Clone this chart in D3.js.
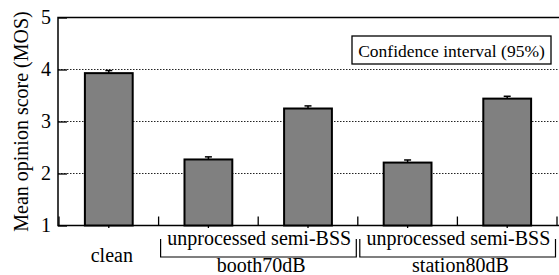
<!DOCTYPE html>
<html>
<head>
<meta charset="utf-8">
<script src="https://cdn.jsdelivr.net/npm/d3@7"></script>
<style>
  body { margin: 0; background: #fff; }
</style>
</head>
<body>
<svg id="chart" width="559" height="275" font-family="Liberation Serif"></svg>
<script>
// data
const categories = ['clean', 'unprocessed', 'semi-BSS', 'unprocessed', 'semi-BSS']
const mos = [3.93, 2.27, 3.25, 2.21, 3.44]
const ci95 = [0.05, 0.05, 0.05, 0.05, 0.045]
const groups = [
  {name: '', from: 0, to: 0},
  {name: 'booth70dB', from: 1, to: 2},
  {name: 'station80dB', from: 3, to: 4}
]
const yTicks = [1, 2, 3, 4, 5]

const svg = d3.select('#chart')
const plotL = 58, plotR = 559, plotT = 17.5, plotB = 225.5

function label (sel, size) {
  return sel.attr('font-family', 'Liberation Serif').attr('font-size', size).attr('fill', '#000')
}

const x = d3.scaleBand()
  .domain(d3.range(categories.length))
  .range([59, 557])
  .paddingInner(0.52)
  .paddingOuter(0.26)
const step = x.step()
const y = d3.scaleLinear().domain([1, 5]).range([plotB, plotT])

// dotted grid
svg.append('g').selectAll('line')
  .data(yTicks.filter(d => d > 1 && d < 5))
  .enter().append('line')
  .attr('x1', plotL).attr('x2', plotR)
  .attr('y1', d => y(d)).attr('y2', d => y(d))
  .attr('stroke', '#222').attr('stroke-width', 1)
  .attr('stroke-dasharray', '1.5,1.5')

// y axis (ticks inward)
const yAxis = svg.append('g')
  .attr('transform', 'translate(' + plotL + ',0)')
  .call(d3.axisRight(y).tickValues(yTicks).tickSize(9).tickFormat(''))
yAxis.select('.domain').remove()
yAxis.selectAll('line').attr('stroke', '#000').attr('stroke-width', 1.3)
svg.append('g').selectAll('text')
  .data(yTicks)
  .enter().append('text')
  .attr('x', 51).attr('y', d => y(d) + 6.5)
  .attr('text-anchor', 'end')
  .call(label, 20)
  .text(d => d)

// frame: left, top, bottom
svg.append('path')
  .attr('d', 'M' + plotR + ',' + plotT + 'H' + plotL + 'V' + plotB + 'H' + plotR)
  .attr('fill', 'none').attr('stroke', '#000').attr('stroke-width', 1.5)

// x boundary ticks (upward) and small centre ticks
const bounds = d3.range(categories.length + 1).map(i => 59 + i * step)
svg.append('g').selectAll('line')
  .data(bounds)
  .enter().append('line')
  .attr('x1', d => d).attr('x2', d => d)
  .attr('y1', plotB).attr('y2', plotB - 9)
  .attr('stroke', '#000').attr('stroke-width', 1.3)
svg.append('g').selectAll('line')
  .data(d3.range(categories.length))
  .enter().append('line')
  .attr('x1', i => x(i) + x.bandwidth() / 2).attr('x2', i => x(i) + x.bandwidth() / 2)
  .attr('y1', plotB).attr('y2', plotB + 2.5)
  .attr('stroke', '#000').attr('stroke-width', 1.3)

// bars
svg.append('g').selectAll('rect')
  .data(mos)
  .enter().append('rect')
  .attr('x', (d, i) => x(i))
  .attr('y', d => y(d))
  .attr('width', x.bandwidth())
  .attr('height', d => plotB - y(d))
  .attr('fill', '#808080')
  .attr('stroke', '#000').attr('stroke-width', 2)

// error bars (only the upper whisker shows above the bar top)
const eb = svg.append('g').attr('stroke', '#000').attr('stroke-width', 1.5)
mos.forEach(function (d, i) {
  const cx = x(i) + x.bandwidth() / 2
  eb.append('line').attr('x1', cx).attr('x2', cx).attr('y1', y(d)).attr('y2', y(d + ci95[i]))
  eb.append('line').attr('x1', cx - 3.5).attr('x2', cx + 3.5).attr('y1', y(d + ci95[i])).attr('y2', y(d + ci95[i]))
})

// category labels and group brackets
groups.forEach(function (g) {
  const gx0 = bounds[g.from], gx1 = bounds[g.to + 1]
  const cx = (gx0 + gx1) / 2
  const text = categories.slice(g.from, g.to + 1).join(' ')
  if (g.name === '') {
    svg.append('text').attr('x', cx + 3).attr('y', 262)
      .attr('text-anchor', 'middle').call(label, 20).text(text)
    return
  }
  svg.append('text').attr('x', cx + 1).attr('y', 245)
    .attr('text-anchor', 'middle').call(label, 20).text(text)
  svg.append('path')
    .attr('d', 'M' + (gx0 + 2) + ',239V257H' + (gx1 - 1.5) + 'V239')
    .attr('fill', 'none').attr('stroke', '#000').attr('stroke-width', 1.2)
  svg.append('text').attr('x', cx + 3).attr('y', 272)
    .attr('text-anchor', 'middle').call(label, 20).text(g.name)
})

// y label
svg.append('text')
  .attr('transform', 'translate(28,' + ((plotT + plotB) / 2) + ') rotate(-90)')
  .attr('text-anchor', 'middle')
  .call(label, 20)
  .text('Mean opinion score (MOS)')

// legend box
svg.append('rect')
  .attr('x', 352).attr('y', 36).attr('width', 199).attr('height', 28)
  .attr('fill', '#fff').attr('stroke', '#000').attr('stroke-width', 1.3)
svg.append('text')
  .attr('x', 451.5).attr('y', 56.5)
  .attr('text-anchor', 'middle')
  .call(label, 17.5)
  .text('Confidence interval (95%)')
</script>
</body>
</html>
